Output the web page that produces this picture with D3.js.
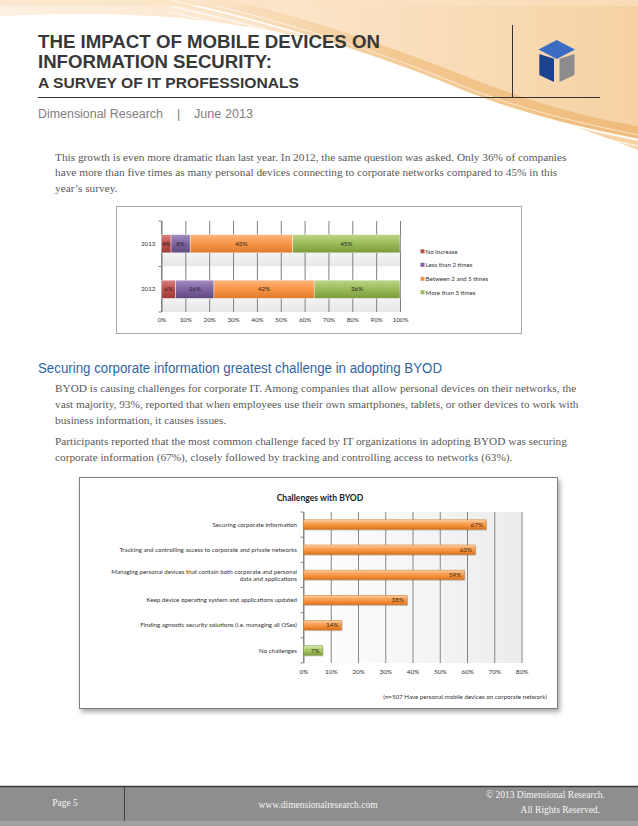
<!DOCTYPE html>
<html><head><meta charset="utf-8">
<script src="https://cdn.jsdelivr.net/npm/d3@7"></script>
<style>body{margin:0;background:#fff}svg{display:block}</style>
</head><body>
<script>
// ---------- data ----------
const years = ["2013", "2012"];
const seriesNames = ["No increase", "Less than 2 times", "Between 2 and 5 times", "More than 5 times"];
const values2013 = [4, 8, 43, 45];
const values2012 = [6, 16, 42, 36];
const ticks1 = [0, 10, 20, 30, 40, 50, 60, 70, 80, 90, 100];

const challenges = [
  "Securing corporate information",
  "Tracking and controlling access to corporate and private networks",
  "Managing personal devices that contain both corporate and personal|data and applications",
  "Keep device operating system and applications updated",
  "Finding agnostic security solutions (i.e. managing all OSes)",
  "No challenges"
];
const challengeValues = [67, 63, 59, 38, 14, 7];
const ticks2 = [0, 10, 20, 30, 40, 50, 60, 70, 80];

const para1 = [
  "This growth is even more dramatic than last year. In 2012, the same question was asked. Only 36% of companies",
  "have more than five times as many personal devices connecting to corporate networks compared to 45% in this",
  "year\u2019s survey."
];
const para2 = [
  "BYOD is causing challenges for corporate IT. Among companies that allow personal devices on their networks, the",
  "vast majority, 93%, reported that when employees use their own smartphones, tablets, or other devices to work with",
  "business information, it causes issues."
];
const para3 = [
  "Participants reported that the most common challenge faced by IT organizations in adopting BYOD was securing",
  "corporate information (67%), closely followed by tracking and controlling access to networks (63%)."
];

// ---------- page ----------
const W = 638, H = 826;
const svg = d3.select("body").append("svg").attr("width", W).attr("height", H);
const defs = svg.append("defs");
svg.append("rect").attr("width", W).attr("height", H).attr("fill", "#fff");

function lg(id, stops, x2 = "0", y2 = "1") {
  const g = defs.append("linearGradient").attr("id", id)
    .attr("x1", "0").attr("y1", "0").attr("x2", x2).attr("y2", y2);
  stops.forEach(s => g.append("stop").attr("offset", s[0]).attr("stop-color", s[1]).attr("stop-opacity", s[2] == null ? 1 : s[2]));
}
lg("hdr", [["0", "#fdf1e2"], ["0.5", "#fbe3c6"], ["1", "#f6d2a3"]], "1", "0");
lg("swoosh", [["0", "#f8e0bf", 0.3], ["0.5", "#f2c48a", 0.85], ["1", "#eeba78", 0.95]], "1", "0");

// header swoosh background
svg.append("path")
  .attr("d", "M0,0 H638 V150 C600,135 540,115 470,88 C400,60 300,30 180,18 C110,12 50,14 0,16 Z")
  .attr("fill", "url(#hdr)");
svg.append("path")
  .attr("d", "M150,0 C260,20 380,55 460,90 C520,116 590,130 638,138 V126 C590,118 530,102 470,78 C390,46 300,16 230,0 Z")
  .attr("fill", "url(#swoosh)");
[[0.9, 2, 0], [0.7, 1.5, 6], [0.6, 1, -5], [0.8, 1.2, 12]].forEach(([op, sw, dy]) => {
  svg.append("path")
    .attr("d", `M170,${0 + dy} C280,${24 + dy} 390,${60 + dy} 465,${92 + dy} C530,${118 + dy} 600,${132 + dy} 638,${140 + dy}`)
    .attr("fill", "none").attr("stroke", "#fff").attr("stroke-opacity", op).attr("stroke-width", sw);
});
svg.append("rect").attr("x", 0).attr("y", 0).attr("width", 638).attr("height", 6).attr("fill", "#fbe3c3").attr("opacity", 0.6);

// title block
const titleFont = "'Liberation Sans', Arial, sans-serif";
svg.append("text").attr("x", 38).attr("y", 48).text("THE IMPACT OF MOBILE DEVICES ON")
  .attr("font-family", titleFont).attr("font-weight", "bold").attr("font-size", 18.5).attr("fill", "#383838")
  .attr("textLength", 342).attr("lengthAdjust", "spacingAndGlyphs");
svg.append("text").attr("x", 38).attr("y", 68).text("INFORMATION SECURITY:")
  .attr("font-family", titleFont).attr("font-weight", "bold").attr("font-size", 18.5).attr("fill", "#383838")
  .attr("textLength", 234).attr("lengthAdjust", "spacingAndGlyphs");
svg.append("text").attr("x", 38).attr("y", 87.5).text("A SURVEY OF IT PROFESSIONALS")
  .attr("font-family", titleFont).attr("font-weight", "bold").attr("font-size", 15.5).attr("fill", "#383838")
  .attr("textLength", 261).attr("lengthAdjust", "spacingAndGlyphs");
svg.append("line").attr("x1", 38).attr("x2", 600).attr("y1", 97.5).attr("y2", 97.5).attr("stroke", "#333").attr("stroke-width", 1);
svg.append("line").attr("x1", 512.5).attr("x2", 512.5).attr("y1", 25).attr("y2", 97.5).attr("stroke", "#333").attr("stroke-width", 1);

// cube logo
const cube = svg.append("g");
cube.append("path").attr("d", "M556.7,40 L575,49.5 L556.7,59 L538.5,49.5 Z").attr("fill", "#3a6cc4");
cube.append("path").attr("d", "M539.3,54 L554,58.8 L554,82 L539.3,75 Z").attr("fill", "#1d428e");
cube.append("path").attr("d", "M559.5,58.8 L574.5,54 L574.5,75 L559.5,82 Z").attr("fill", "#8c8c8c");

svg.append("text").attr("x", 38).attr("y", 117.5).text("Dimensional Research")
  .attr("font-family", titleFont).attr("font-size", 12.5).attr("fill", "#808080")
  .attr("textLength", 125).attr("lengthAdjust", "spacingAndGlyphs");
svg.append("text").attr("x", 177).attr("y", 117.5).text("|")
  .attr("font-family", titleFont).attr("font-size", 12.5).attr("fill", "#808080");
svg.append("text").attr("x", 194).attr("y", 117.5).text("June 2013")
  .attr("font-family", titleFont).attr("font-size", 12.5).attr("fill", "#808080")
  .attr("textLength", 59).attr("lengthAdjust", "spacingAndGlyphs");

// paragraphs
const serif = "'Liberation Serif', 'Times New Roman', serif";
function para(lines, y0, dy) {
  lines.forEach((t, i) => svg.append("text").attr("x", 55).attr("y", y0 + i * dy).text(t)
    .attr("font-family", serif).attr("font-size", 11.3).attr("fill", "#595959"));
}
para(para1, 160.5, 15.5);
svg.append("text").attr("x", 38).attr("y", 373).text("Securing corporate information greatest challenge in adopting BYOD")
  .attr("font-family", titleFont).attr("font-size", 14).attr("fill", "#2f64a0")
  .attr("textLength", 404).attr("lengthAdjust", "spacingAndGlyphs");
para(para2, 392, 16);
para(para3, 445, 16);

// ---------- chart 1: stacked 100% bars ----------
const cf = "Lato, 'Carlito', 'DejaVu Sans', sans-serif";
svg.append("rect").attr("x", 116.5).attr("y", 206.5).attr("width", 405).attr("height", 127)
  .attr("fill", "#fff").attr("stroke", "#a6a6a6");

const c1 = { left: 161.5, right: 400, top: 221, bottom: 312 };
const x1 = d3.scaleLinear().domain([0, 100]).range([c1.left, c1.right]);
const y1 = d3.scaleBand().domain(years).range([c1.top, c1.bottom]).paddingInner(0.6).paddingOuter(0.3);
const yb1 = d3.scaleBand().domain(years).range([c1.top, c1.bottom]);
lg("band1", [["0", "#ffffff"], ["0.45", "#ffffff"], ["1", "#e6e6e6"]]);
const g1 = svg.append("g");
years.forEach(yv => g1.append("rect").attr("x", c1.left).attr("y", yb1(yv)).attr("width", c1.right - c1.left)
  .attr("height", yb1.bandwidth()).attr("fill", "url(#band1)"));
g1.append("g").attr("transform", `translate(0,${c1.bottom})`)
  .call(d3.axisBottom(x1).tickValues(ticks1).tickFormat(d => d + "%").tickSize(-(c1.bottom - c1.top)).tickPadding(6))
  .call(g => g.select(".domain").remove())
  .call(g => g.selectAll("line").attr("stroke", "#7f7f7f"))
  .call(g => g.selectAll("text").attr("font-family", cf).attr("font-size", 6.3).attr("fill", "#333"));
// left axis
g1.append("line").attr("x1", c1.left).attr("x2", c1.left).attr("y1", c1.top).attr("y2", c1.bottom).attr("stroke", "#7f7f7f");
[c1.top, c1.top + yb1.bandwidth(), c1.bottom].forEach(yy => g1.append("line")
  .attr("x1", c1.left - 3).attr("x2", c1.left).attr("y1", yy).attr("y2", yy).attr("stroke", "#7f7f7f"));
years.forEach(yv => g1.append("text").attr("x", c1.left - 6).attr("y", y1(yv) + y1.bandwidth() / 2).attr("dy", "0.35em")
  .attr("text-anchor", "end").text(yv).attr("font-family", cf).attr("font-size", 6.3).attr("fill", "#333"));

const colors1 = [["#d8807e", "#c0504d", "#9b3a37"], ["#a18cc0", "#8064a2", "#60497d"], ["#fbb47a", "#f79646", "#df7a2c"], ["#bbd486", "#9bbb59", "#7b9a3e"]];
colors1.forEach((c, i) => lg("s" + i, [["0", c[0]], ["0.5", c[1]], ["1", c[2]]]));
const rows = years.map((yv, i) => { const o = { year: yv }; seriesNames.forEach((s, j) => o[s] = (i === 0 ? values2013 : values2012)[j]); return o; });
const stacked = d3.stack().keys(seriesNames)(rows);
stacked.forEach((layer, si) => {
  layer.forEach(d => {
    const yy = y1(d.data.year);
    g1.append("rect").attr("x", x1(d[0])).attr("y", yy).attr("width", x1(d[1]) - x1(d[0])).attr("height", y1.bandwidth())
      .attr("fill", `url(#s${si})`).attr("stroke", "#fff").attr("stroke-width", 0.4);
    g1.append("text").attr("x", (x1(d[0]) + x1(d[1])) / 2).attr("y", yy + y1.bandwidth() / 2).attr("dy", "0.35em")
      .attr("text-anchor", "middle").text((d[1] - d[0]) + "%").attr("font-family", cf).attr("font-size", 6.3).attr("fill", "#222");
  });
});
// legend
const legY = [251.5, 265, 279, 292.5];
seriesNames.forEach((s, i) => {
  g1.append("rect").attr("x", 420.5).attr("y", legY[i] - 2.2).attr("width", 4).attr("height", 4).attr("fill", colors1[i][1]);
  g1.append("text").attr("x", 425.5).attr("y", legY[i]).attr("dy", "0.35em").text(s)
    .attr("font-family", cf).attr("font-size", 6.2).attr("fill", "#333");
});

// ---------- chart 2: horizontal bars ----------
const sh = defs.append("filter").attr("id", "shadow").attr("x", "-5%").attr("y", "-5%").attr("width", "115%").attr("height", "115%");
sh.append("feGaussianBlur").attr("in", "SourceAlpha").attr("stdDeviation", 2.5);
sh.append("feOffset").attr("dx", 2).attr("dy", 3).attr("result", "b");
sh.append("feComponentTransfer").append("feFuncA").attr("type", "linear").attr("slope", 0.35);
const fm = sh.append("feMerge"); fm.append("feMergeNode"); fm.append("feMergeNode").attr("in", "SourceGraphic");
svg.append("rect").attr("x", 79.5).attr("y", 477.5).attr("width", 478).attr("height", 231)
  .attr("fill", "#fff").attr("stroke", "#7f7f7f").attr("filter", "url(#shadow)");

svg.append("text").attr("x", 320).attr("y", 498).attr("dy", "0.35em").attr("text-anchor", "middle")
  .text("Challenges with BYOD").attr("font-family", cf).attr("font-weight", "bold").attr("font-size", 8.6).attr("fill", "#222");

const c2 = { left: 303.5, right: 521.5, top: 512, bottom: 663 };
const x2 = d3.scaleLinear().domain([0, 80]).range([c2.left, c2.right]);
const y2 = d3.scaleBand().domain(challenges).range([c2.top, c2.bottom]).paddingInner(0.62).paddingOuter(0.31);
const yb2 = d3.scaleBand().domain(challenges).range([c2.top, c2.bottom]);
lg("plot2", [["0", "#ffffff"], ["1", "#ececec"]], "1", "0");
const g2 = svg.append("g");
g2.append("rect").attr("x", c2.left).attr("y", c2.top).attr("width", c2.right - c2.left).attr("height", c2.bottom - c2.top).attr("fill", "url(#plot2)");
g2.append("g").attr("transform", `translate(0,${c2.bottom})`)
  .call(d3.axisBottom(x2).tickValues(ticks2).tickFormat(d => d + "%").tickSize(-(c2.bottom - c2.top)).tickPadding(6))
  .call(g => g.select(".domain").remove())
  .call(g => g.selectAll("line").attr("stroke", "#868686"))
  .call(g => g.selectAll("text").attr("font-family", cf).attr("font-size", 6.4).attr("fill", "#333"));
g2.append("line").attr("x1", c2.left).attr("x2", c2.left).attr("y1", c2.top).attr("y2", c2.bottom).attr("stroke", "#868686");
challenges.forEach((c, i) => {
  const yy = yb2(c);
  g2.append("line").attr("x1", c2.left - 3).attr("x2", c2.left).attr("y1", yy).attr("y2", yy).attr("stroke", "#868686");
});
g2.append("line").attr("x1", c2.left - 3).attr("x2", c2.left).attr("y1", c2.bottom).attr("y2", c2.bottom).attr("stroke", "#868686");

lg("orange", [["0", "#fcd2a6"], ["0.35", "#f9a45c"], ["0.7", "#f28c33"], ["1", "#d56f1f"]]);
lg("green", [["0", "#dbe9b9"], ["0.35", "#b3cf73"], ["0.7", "#9bbb59"], ["1", "#7c9a3d"]]);
challenges.forEach((c, i) => {
  const v = challengeValues[i];
  const yy = y2(c), bh = y2.bandwidth();
  const isLast = c === "No challenges";
  g2.append("rect").attr("x", x2(0) + 1).attr("y", yy + 1.2).attr("width", x2(v) - x2(0)).attr("height", bh)
    .attr("fill", "#000").attr("opacity", 0.18);
  g2.append("rect").attr("x", x2(0)).attr("y", yy).attr("width", x2(v) - x2(0)).attr("height", bh)
    .attr("fill", isLast ? "url(#green)" : "url(#orange)").attr("stroke", isLast ? "#7f9a45" : "#d07a2e").attr("stroke-width", 0.5);
  g2.append("text").attr("x", x2(v) - 3).attr("y", yy + bh / 2).attr("dy", "0.35em").attr("text-anchor", "end")
    .text(v + "%").attr("font-family", cf).attr("font-size", 6.4).attr("fill", "#3a2a10");
  const parts = c.split("|");
  const cy = yb2(c) + yb2.bandwidth() / 2;
  parts.forEach((p, k) => g2.append("text").attr("x", 297).attr("y", cy + (k - (parts.length - 1) / 2) * 7).attr("dy", "0.35em")
    .attr("text-anchor", "end").text(p).attr("font-family", cf).attr("font-size", 6.2).attr("fill", "#333"));
});
g2.append("text").attr("x", 547).attr("y", 697).attr("dy", "0.35em").attr("text-anchor", "end")
  .text("(n=507 Have personal mobile devices on corporate network)").attr("font-family", cf).attr("font-size", 6.2).attr("fill", "#333");

// ---------- footer ----------
svg.append("rect").attr("x", 0).attr("y", 786).attr("width", W).attr("height", 40).attr("fill", "#8e8e8e");
svg.append("line").attr("x1", 0).attr("x2", W).attr("y1", 786.5).attr("y2", 786.5).attr("stroke", "#3a3a3a").attr("stroke-width", 1.5);
svg.append("line").attr("x1", 124.5).attr("x2", 124.5).attr("y1", 787).attr("y2", 826).attr("stroke", "#444");
svg.append("rect").attr("x", 0).attr("y", 821).attr("width", W).attr("height", 5).attr("fill", "#a0a0a0");
const ff = (t, x, y, anchor) => svg.append("text").attr("x", x).attr("y", y).attr("text-anchor", anchor).text(t)
  .attr("font-family", serif).attr("font-size", 9.5).attr("fill", "#f4f4f4");
ff("Page 5", 65, 806, "middle");
ff("www.dimensionalresearch.com", 318, 808, "middle");
ff("\u00a9 2013 Dimensional Research.", 605, 798, "end");
ff("All Rights Reserved.", 600, 813, "end");
</script>
</body></html>
